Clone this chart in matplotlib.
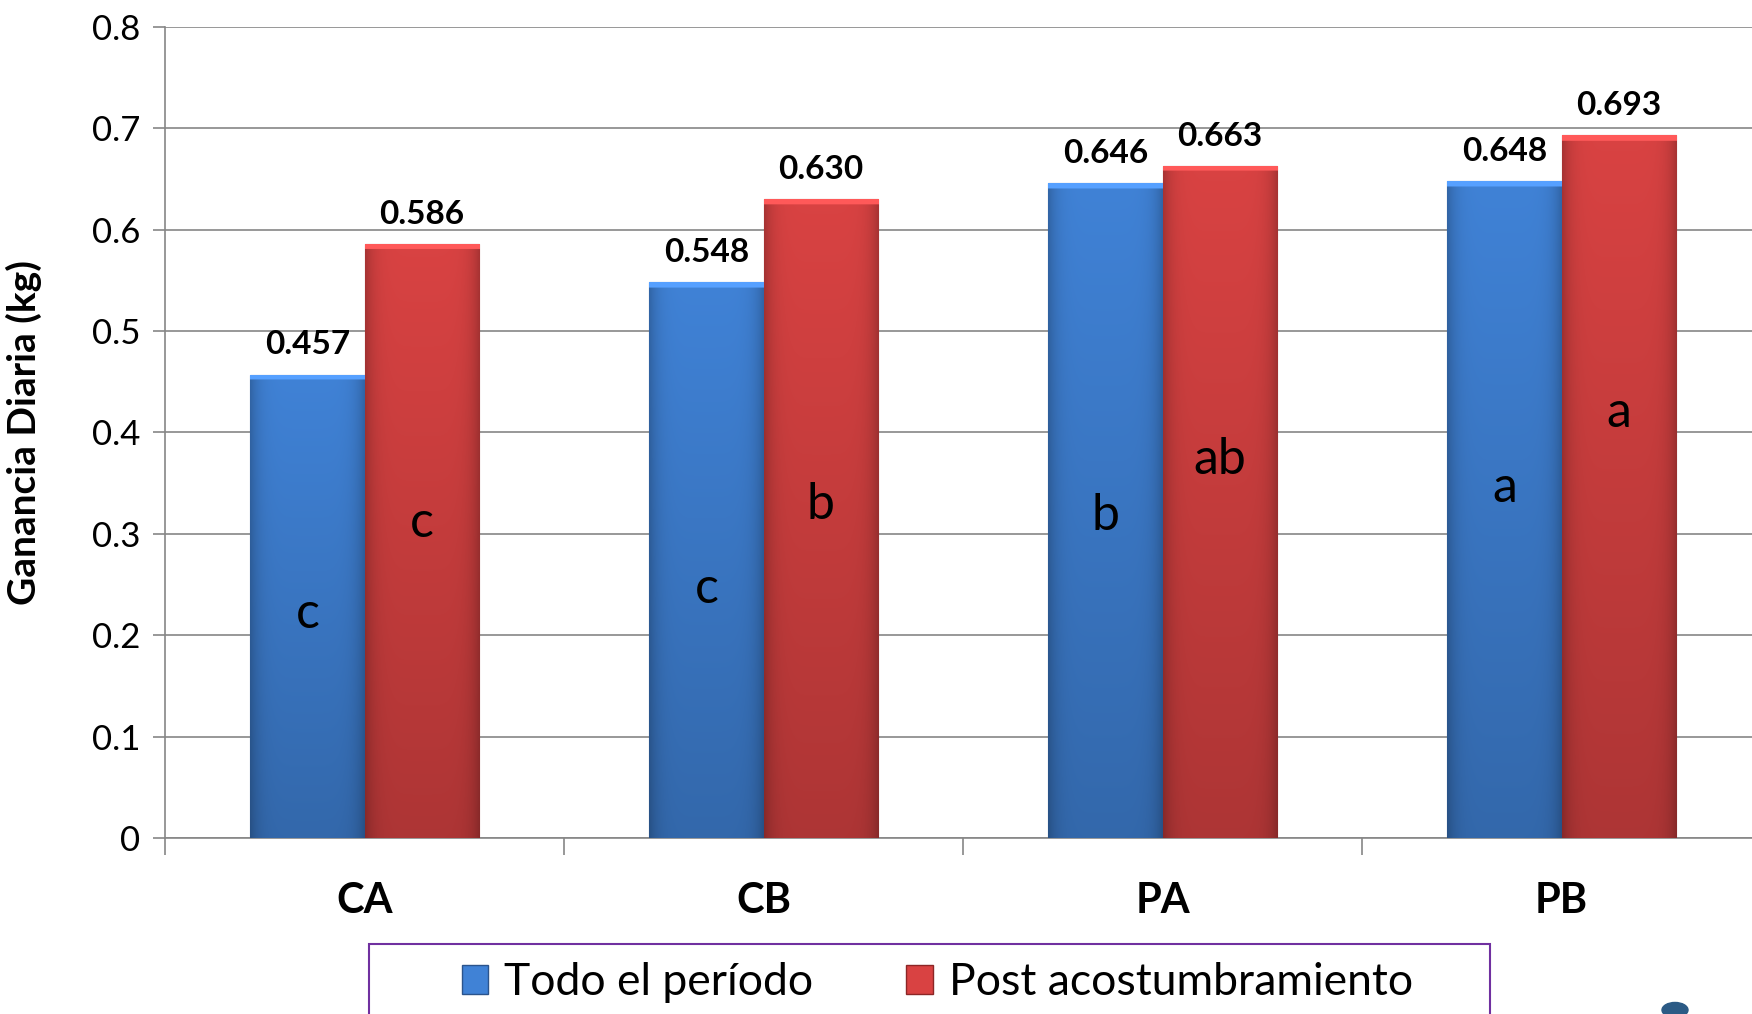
import numpy as np
import matplotlib
matplotlib.use("Agg")
import matplotlib.pyplot as plt
from matplotlib.patches import Rectangle, Circle

plt.rcParams['font.family'] = ['Lato', 'DejaVu Sans']

categories = ['CA', 'CB', 'PA', 'PB']
series_names = ['Todo el período', 'Post acostumbramiento']
todo = [0.457, 0.548, 0.646, 0.648]
post = [0.586, 0.630, 0.663, 0.693]
letters_todo = ['c', 'c', 'b', 'a']
letters_post = ['c', 'b', 'ab', 'a']
# heights where the significance letters sit inside the bars
letters_todo_y = [0.221, 0.246, 0.318, 0.345]
letters_post_y = [0.311, 0.328, 0.373, 0.419]
yticks = [0, 0.1, 0.2, 0.3, 0.4, 0.5, 0.6, 0.7, 0.8]

blue = (0.25, 0.51, 0.84)
red = (0.85, 0.26, 0.26)


def shade(ax, bar, rgb):
    # fake excel bevel: darker toward the bottom and the sides, light rim on top
    x, y = bar.get_x(), bar.get_y()
    w, h = bar.get_width(), bar.get_height()
    xs = np.linspace(-1, 1, 80)
    ys = np.linspace(0, 1, 600)
    hx = 1 - 0.22 * np.abs(xs) ** 6
    vy = 0.80 + 0.20 * ys
    f = vy[:, None] * hx[None, :]
    img = np.clip(np.array(rgb)[None, None, :] * f[:, :, None], 0, 1)
    top = ys > 1 - 0.005 / h
    img[top] = np.clip(np.array(rgb) * 1.12 + 0.06, 0, 1)
    im = ax.imshow(img, extent=[x, x + w, y, y + h], origin='lower',
                   aspect='auto', zorder=3, interpolation='bilinear')
    im.set_clip_path(bar)


fig = plt.figure(figsize=(17.52, 10.14), dpi=100)
ax = fig.add_axes([0.0942, 0.1736, 0.911, 0.7998])

x = np.arange(len(categories))
bw = 0.286
b1 = ax.bar(x - bw / 2, todo, bw, color=blue, edgecolor=(0.17, 0.33, 0.55),
            linewidth=0.8, zorder=2)
b2 = ax.bar(x + bw / 2, post, bw, color=red, edgecolor=(0.55, 0.15, 0.15),
            linewidth=0.8, zorder=2)
for bars, c in ((b1, blue), (b2, red)):
    for b in bars:
        shade(ax, b, c)

for i in range(len(categories)):
    ax.annotate(f'{todo[i]:.3f}', (x[i] - bw / 2, todo[i]), xytext=(0, 11),
                textcoords='offset points', ha='center', va='bottom',
                fontsize=24, fontweight='bold', zorder=5)
    ax.annotate(f'{post[i]:.3f}', (x[i] + bw / 2, post[i]), xytext=(0, 11),
                textcoords='offset points', ha='center', va='bottom',
                fontsize=24, fontweight='bold', zorder=5)
    ax.text(x[i] - bw / 2, letters_todo_y[i], letters_todo[i], ha='center',
            va='center', fontsize=36, zorder=5)
    ax.text(x[i] + bw / 2, letters_post_y[i], letters_post[i], ha='center',
            va='center', fontsize=36, zorder=5)

ax.set_xlim(-0.5, len(categories) - 0.5)
ax.set_ylim(0, 0.8)
ax.set_yticks(yticks)
ax.set_yticklabels(['0' if v == 0 else f'{v:.1f}' for v in yticks], fontsize=25)
ax.set_xticks(np.arange(-0.5, len(categories) + 0.5, 1))
ax.set_xticklabels([])
ax.set_xticks(x, minor=True)
ax.set_xticklabels(categories, minor=True, fontsize=30, fontweight='bold')
ax.tick_params(axis='x', which='minor', length=0, pad=32)
ax.tick_params(axis='x', which='major', length=12, color='#868686', width=1.2)
ax.tick_params(axis='y', length=9, color='#868686', width=1.2, pad=9)
ax.grid(axis='y', color='#868686', linewidth=1.2, zorder=0)
ax.set_axisbelow(True)
for s in ['top', 'right']:
    ax.spines[s].set_visible(False)
for s in ['left', 'bottom']:
    ax.spines[s].set_color('#868686')
    ax.spines[s].set_linewidth(1.2)
ax.set_ylabel('Ganancia Diaria (kg)', fontsize=28, fontweight='bold')
ax.yaxis.set_label_coords(-0.077, 0.5)

# legend frame, cut off by the bottom edge like in the original
fig.patches.append(Rectangle((369 / 1752, -0.05), 1121 / 1752, 0.05 + 70 / 1014,
                             transform=fig.transFigure, fill=False,
                             edgecolor='#7030A0', linewidth=1.5))
handles = [Rectangle((0, 0), 1, 1, facecolor=blue, edgecolor=(0.17, 0.33, 0.55)),
           Rectangle((0, 0), 1, 1, facecolor=red, edgecolor=(0.55, 0.15, 0.15))]
fig.legend(handles, series_names, loc='center', bbox_to_anchor=(0.535, 0.031),
           ncol=2, frameon=False, fontsize=32, handlelength=0.6,
           handleheight=0.6, handletextpad=0.35, columnspacing=2.1)

fig.patches.append(Circle((1675 / 1752, 4 / 1014), 13 / 1752,
                          transform=fig.transFigure, color='#2B5A85'))

fig.savefig('out.png', dpi=100)
